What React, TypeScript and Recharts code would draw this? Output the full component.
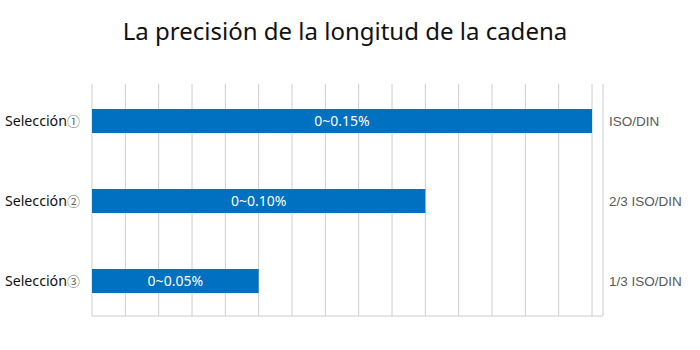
import { BarChart, Bar, XAxis, YAxis, CartesianGrid, LabelList } from 'recharts'

const categories = ['Selección①', 'Selección②', 'Selección③']
const values = [0.15, 0.1, 0.05]
const barLabels = ['0~0.15%', '0~0.10%', '0~0.05%']
const rightLabels = ['ISO/DIN', '2/3 ISO/DIN', '1/3 ISO/DIN']
const xTicks = [0, 0.01, 0.02, 0.03, 0.04, 0.05, 0.06, 0.07, 0.08, 0.09, 0.1, 0.11, 0.12, 0.13, 0.14, 0.15]

const data = categories.map((name, i) => ({ name, value: values[i], label: barLabels[i] }))

function LeftTick(props: any) {
  const { x, y, payload } = props
  const text: string = payload.value
  const main = text.slice(0, -1)
  const mark = text.slice(-1)
  return (
    <text x={x} y={y} dy={5} textAnchor="end" fontSize={14.2} fontFamily='"Noto Sans", sans-serif' fill="#111">
      {main}
      <tspan fontFamily='"Noto Sans CJK JP", sans-serif' fill="#666" fontSize={13}>
        {mark}
      </tspan>
    </text>
  )
}

function RightTick(props: any) {
  const { x, y, index } = props
  return (
    <text x={x} y={y} dy={5} textAnchor="start" fontSize={13.5} fontFamily='"Liberation Sans", Arial, sans-serif' fill="#595959">
      {rightLabels[index]}
    </text>
  )
}

export default function App() {
  return (
    <div style={{ position: 'absolute', left: 0, top: 0, width: 700, height: 350, background: '#fff' }}>
      <div
        style={{
          position: 'absolute',
          left: 0,
          top: 14,
          width: 690,
          textAlign: 'center',
          fontFamily: '"Noto Sans", sans-serif',
          fontSize: 24,
          color: '#111',
        }}
      >
        La precisión de la longitud de la cadena
      </div>
      <BarChart
        width={700}
        height={350}
        data={data}
        layout="vertical"
        margin={{ top: 84, right: 0, bottom: 33, left: 0 }}
      >
        <CartesianGrid horizontal={false} vertical stroke="#cccccc" />
        <XAxis
          type="number"
          domain={[0, 0.1533]}
          ticks={xTicks}
          tick={() => <g />}
          tickLine={false}
          axisLine={{ stroke: '#cccccc' }}
          height={1}
        />
        <YAxis
          yAxisId="left"
          type="category"
          dataKey="name"
          width={92}
          axisLine={false}
          tickLine={false}
          tickMargin={6}
          padding={{ top: -3, bottom: -5 }}
          tick={<LeftTick />}
        />
        <YAxis
          yAxisId="right"
          orientation="right"
          type="category"
          dataKey="name"
          width={97}
          axisLine={false}
          tickLine={false}
          tickMargin={0}
          padding={{ top: -3, bottom: -5 }}
          tick={<RightTick />}
        />
        <Bar yAxisId="left" dataKey="value" fill="#0070C0" barSize={24} isAnimationActive={false}>
          <LabelList
            dataKey="label"
            position="center"
            fill="#fff"
            style={{ fontSize: 14, fontFamily: '"Noto Sans", sans-serif' }}
          />
        </Bar>
      </BarChart>
    </div>
  )
}
